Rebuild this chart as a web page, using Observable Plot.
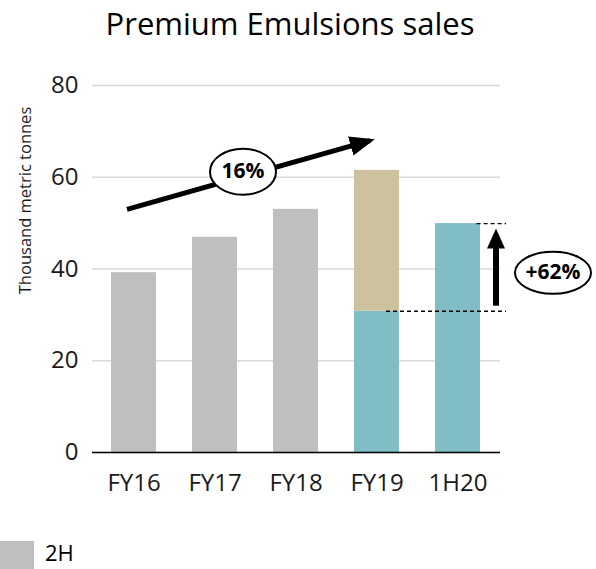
<!DOCTYPE html>
<html><head><meta charset="utf-8">
<script src="https://cdn.jsdelivr.net/npm/d3@7"></script>
<script src="https://cdn.jsdelivr.net/npm/@observablehq/plot@0.6"></script>
<style>
body{margin:0;background:#fff;}
#wrap{position:relative;width:596px;height:569px;overflow:hidden;font-family:"Open Sans",sans-serif;background:#fff;}
#title{position:absolute;top:3px;left:0;width:580px;text-align:center;font-size:31px;line-height:40px;color:#000;}
#chart{position:absolute;top:60px;left:0;}
#legend{position:absolute;top:541px;left:0;height:28px;width:200px;}
.sw{position:absolute;left:0;top:0;width:34px;height:28px;}
.lt{position:absolute;left:45px;top:1px;font-size:22px;line-height:20px;color:#000;}
</style></head>
<body><div id="wrap"><div id="title">Premium Emulsions sales</div><div id="chart"></div><div id="legend"></div></div>
<script>
// ---- data ----
const periods = ["FY16", "FY17", "FY18", "FY19", "1H20"];
const fullYear = [39.2, 46.9, 53.0, null, null];
const firstHalf = [null, null, null, 30.8, 49.9];
const secondHalf = [null, null, null, 30.7, null];
const partNames = ["Full year", "1H", "2H"];
const partColors = ["#bfbfbf", "#80bdc4", "#cdc19e"];
const yTicks = [0, 20, 40, 60, 80];
const yLabel = "Thousand metric tonnes";
const cagrLabel = "16%";
const trendStart = {period: "FY16", value: 53};
const trendEnd = {period: "FY19", value: 68};
const jumpLabel = "+62%";
const jumpStart = 32.0;
const jumpEnd = 47.5;
const legendLabels = ["2H"];
const legendColors = ["#bfbfbf"];

// ---- build table ----
const rows = [];
periods.forEach((p, i) => {
  if (fullYear[i] != null) rows.push({period: p, part: "Full year", value: fullYear[i]});
  if (firstHalf[i] != null) rows.push({period: p, part: "1H", value: firstHalf[i]});
  if (secondHalf[i] != null) rows.push({period: p, part: "2H", value: secondHalf[i]});
});

function ellipse(rx, ry) {
  const k = 0.5523;
  return {draw(ctx) {
    ctx.moveTo(rx, 0);
    ctx.bezierCurveTo(rx, ry * k, rx * k, ry, 0, ry);
    ctx.bezierCurveTo(-rx * k, ry, -rx, ry * k, -rx, 0);
    ctx.bezierCurveTo(-rx, -ry * k, -rx * k, -ry, 0, -ry);
    ctx.bezierCurveTo(rx * k, -ry, rx, -ry * k, rx, 0);
    ctx.closePath();
  }};
}

const plot = Plot.plot({
  width: 596, height: 450,
  marginTop: 25, marginBottom: 58, marginLeft: 92, marginRight: 96,
  style: {fontFamily: "'Open Sans', sans-serif", fontSize: "24px", color: "#1a1a1a", background: "transparent", overflow: "visible"},
  x: {domain: periods, paddingInner: 0.44, paddingOuter: 0.22, align: 0.5, label: null},
  y: {domain: [0, 80], label: null},
  color: {domain: partNames, range: partColors},
  marks: [
    Plot.gridY(yTicks, {stroke: "#d9d9d9", strokeOpacity: 1, strokeWidth: 1.3}),
    Plot.axisY(yTicks, {tickSize: 0, tickPadding: 14, fontSize: 24, label: null}),
    Plot.axisX({tickSize: 0, tickPadding: 21, fontSize: 24, label: null}),
    Plot.barY(rows, {x: "period", y: "value", fill: "part"}),
    Plot.ruleY([0], {stroke: "#000", strokeWidth: 1.5}),
    Plot.ruleY([{from: "1H20", to: "1H20", value: firstHalf[4]}], {y: "value", x1: "from", x2: "to", insetLeft: 41.6, insetRight: -26, stroke: "#000", strokeWidth: 1.4, strokeDasharray: "4,3"}),
    Plot.ruleY([{from: "FY19", to: "1H20", value: firstHalf[3]}], {y: "value", x1: "from", x2: "to", insetLeft: 32, insetRight: -26, stroke: "#000", strokeWidth: 1.4, strokeDasharray: "4,3"}),
    Plot.link([{a: trendStart.period, b: trendStart.value, c: trendEnd.period, d: trendEnd.value}], {x1: "a", y1: "b", x2: "c", y2: "d", dx: -7, stroke: "#000", strokeWidth: 5, markerEnd: "arrow"}),
    Plot.link([{a: "1H20", b: jumpStart, c: "1H20", d: jumpEnd}], {x1: "a", y1: "b", x2: "c", y2: "d", dx: 38, stroke: "#000", strokeWidth: 6, markerEnd: "arrow"}),
    Plot.dot([{p: "FY17", v: 61.2}], {x: "p", y: "v", dx: 28, symbol: ellipse(33, 23), r: 10, fill: "#fff", stroke: "#000", strokeWidth: 2}),
    Plot.text([{p: "FY17", v: 61.2, t: cagrLabel}], {x: "p", y: "v", text: "t", dx: 28, fontSize: 21, fontWeight: "bold", fill: "#000"}),
    Plot.dot([{p: "1H20", v: 39.2}], {x: "p", y: "v", dx: 95, symbol: ellipse(38, 21), r: 10, fill: "#fff", stroke: "#000", strokeWidth: 2}),
    Plot.text([{p: "1H20", v: 39.2, t: jumpLabel}], {x: "p", y: "v", text: "t", dx: 95, fontSize: 21, fontWeight: "bold", fill: "#000"}),
    Plot.text([yLabel], {frameAnchor: "top-left", text: d => d, rotate: -90, dx: -67, dy: 115, fontSize: 16.5, fill: "#1a1a1a", textAnchor: "middle", lineAnchor: "middle"})
  ]
});

// solid arrowheads
const svgSel = d3.select(plot);
const defs = svgSel.append("defs");
function head(id, len, half, ref) {
  defs.append("marker").attr("id", id)
    .attr("viewBox", `0 ${-half} ${len} ${2 * half}`)
    .attr("markerUnits", "strokeWidth")
    .attr("markerWidth", len).attr("markerHeight", 2 * half)
    .attr("refX", ref).attr("refY", 0).attr("orient", "auto")
    .append("path").attr("d", `M0,${-half}L${len},0L0,${half}Z`).attr("fill", "#000");
}
head("headTrend", 5, 2, 4);
head("headUp", 3.33, 1.5, 2.33);
const marked = plot.querySelectorAll("[marker-end]");
if (marked[0]) marked[0].setAttribute("marker-end", "url(#headTrend)");
if (marked[1]) marked[1].setAttribute("marker-end", "url(#headUp)");

document.getElementById("chart").appendChild(plot);

const legend = d3.select("#legend");
legendLabels.forEach((l, i) => {
  legend.append("div").attr("class", "sw").style("background", legendColors[i]);
  legend.append("div").attr("class", "lt").text(l);
});
</script>
</body></html>
